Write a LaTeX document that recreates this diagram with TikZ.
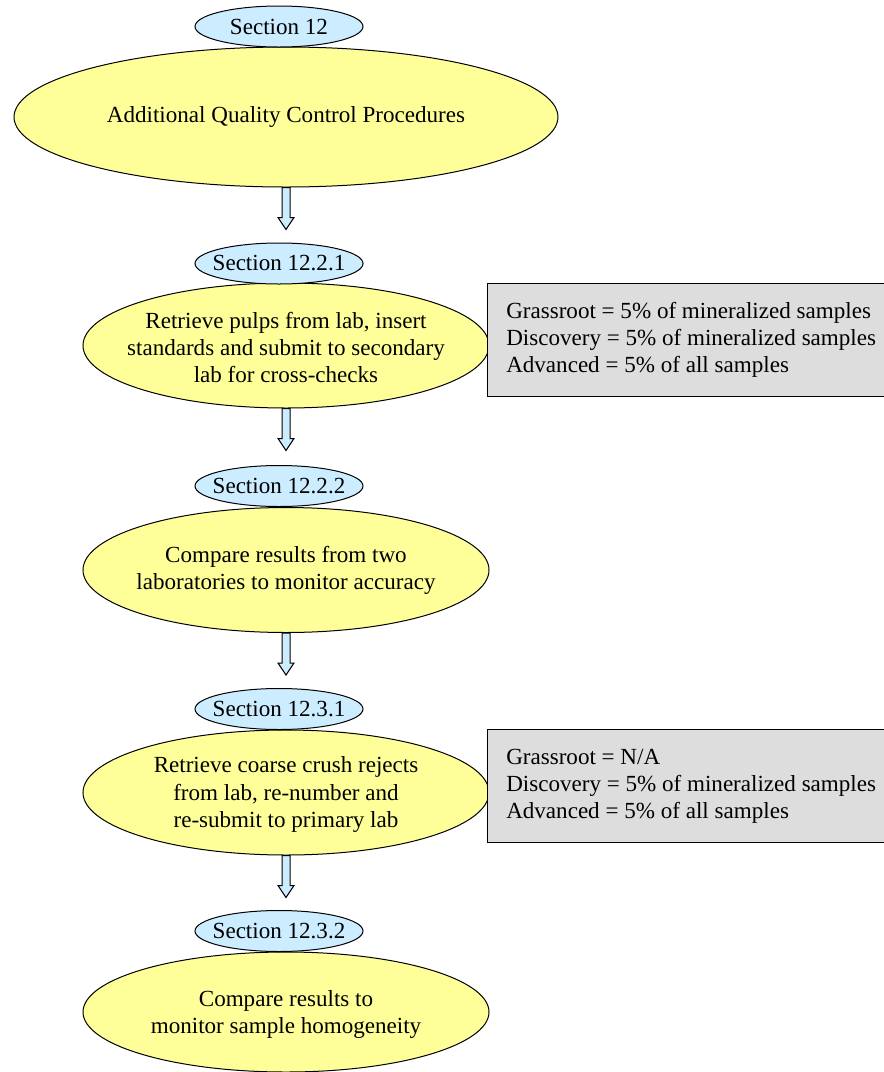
\documentclass[tikz,border=0pt]{standalone}
\usepackage{fontspec}
\setmainfont{Liberation Serif}
\usetikzlibrary{shapes.geometric}
\definecolor{secblue}{HTML}{CCECFF}
\definecolor{procyellow}{HTML}{FFFF99}
\definecolor{notegray}{HTML}{DDDDDD}
\begin{document}
\begin{tikzpicture}[x=0.75pt,y=-0.75pt,
 every node/.style={font=\fontsize{17.3}{20.3}\selectfont},
 secnode/.style={ellipse, draw=black, line width=0.75pt, fill=secblue, minimum width=126pt, minimum height=30.75pt, inner sep=0pt},
 procnode/.style={ellipse, draw=black, line width=0.75pt, fill=procyellow, minimum width=304.5pt, minimum height=93.75pt, inner sep=0pt},
 proctext/.style={align=center, inner sep=0pt},
 notebox/.style={rectangle, draw=black, line width=1.1pt, fill=notegray, minimum width=302.25pt, minimum height=84.75pt, anchor=north west, inner sep=0pt},
 notetext/.style={anchor=west, align=left, inner sep=0pt},
 flowarrow/.style={draw=black, line width=0.75pt, fill=secblue, line join=miter}]
\useasboundingbox (0,0) rectangle (884,1072);

% process ellipses
\node[procnode, minimum width=408pt, minimum height=105pt] (p1) at (286,117) {};
\node[proctext] (p1t) at (p1.center) {Additional Quality Control Procedures};
\node[procnode] (p2) at (286,345.5) {};
\node[proctext] (p2t) at ([yshift=-1.5]p2.center) {Retrieve pulps from lab, insert\\standards and submit to secondary\\lab for cross-checks};
\node[procnode] (p3) at (286,570) {};
\node[proctext] (p3t) at (p3.center) {Compare results from two\\laboratories to monitor accuracy};
\node[procnode] (p4) at (286,792.5) {};
\node[proctext] (p4t) at ([yshift=-1.5]p4.center) {Retrieve coarse crush rejects\\from lab, re-number and\\re-submit to primary lab};
\node[procnode, minimum height=90pt] (p5) at (286,1012) {};
\node[proctext] (p5t) at ([yshift=-2]p5.center) {Compare results to\\monitor sample homogeneity};

% section labels
\node[secnode] (s1) at (279,26.5) {};
\node[proctext] (s1t) at (s1.center) {Section 12};
\node[secnode] (s2) at (279,263.5) {};
\node[proctext] (s2t) at (s2.center) {Section 12.2.1};
\node[secnode] (s3) at (279,486) {};
\node[proctext] (s3t) at (s3.center) {Section 12.2.2};
\node[secnode] (s4) at (279,709) {};
\node[proctext] (s4t) at (s4.center) {Section 12.3.1};
\node[secnode] (s5) at (279,931) {};
\node[proctext] (s5t) at (s5.center) {Section 12.3.2};

% block arrows
\foreach \src in {p1,p2,p3,p4}{
  \draw[flowarrow] (\src.south) ++(-4,0) -- ++(0,30) -- ++(-4,0) -- ++(8,12) -- ++(8,-12) -- ++(-4,0) -- ++(0,-30) -- cycle;
}

% note boxes
\node[notebox] (n1) at (487,283) {};
\node[notetext] (n1t) at (506,339.5) {Grassroot = 5\% of mineralized samples\\Discovery = 5\% of mineralized samples\\Advanced = 5\% of all samples};
\node[notebox] (n2) at (487,729) {};
\node[notetext] (n2t) at (506,786) {Grassroot = N/A\\Discovery = 5\% of mineralized samples\\Advanced = 5\% of all samples};
\end{tikzpicture}
\end{document}
